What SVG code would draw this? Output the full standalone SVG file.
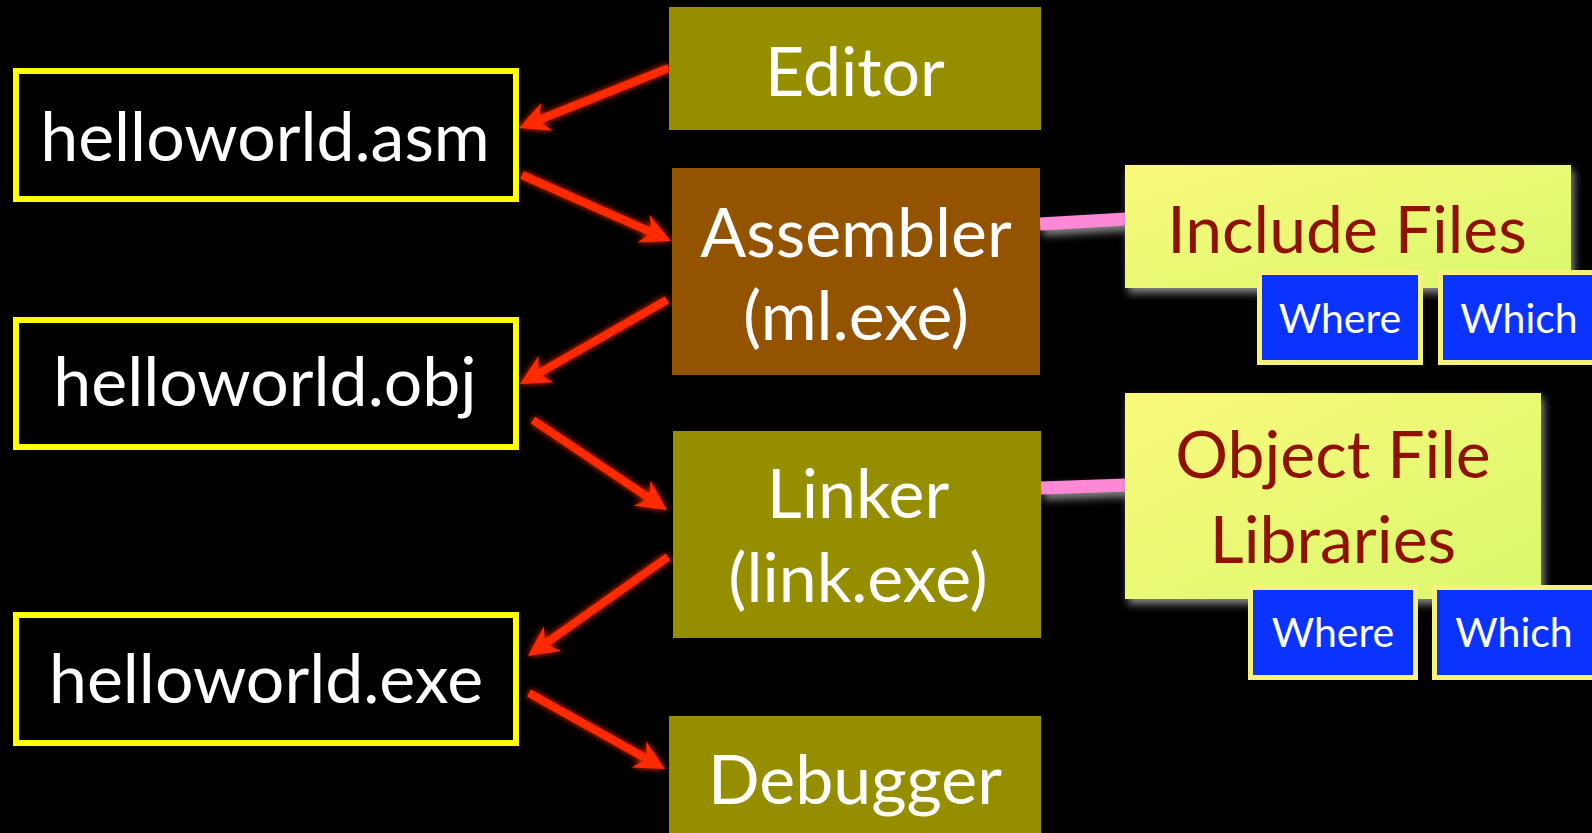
<svg xmlns="http://www.w3.org/2000/svg" width="1592" height="833" viewBox="0 0 1592 833">
<defs>
<style>
.t{font-family:Lato,"Open Sans","Liberation Sans",sans-serif;text-anchor:middle}
.w{fill:#ffffff;font-size:68px}
.r{fill:#8f1200;font-size:66px}
.b{fill:#ffffff;font-size:41px}
.file{fill:#000000;stroke:#ffff00;stroke-width:6}
.olive{fill:#958f00}
.brown{fill:#945300}
.note{fill:url(#yg);filter:url(#sh)}
.blue{fill:#0a33ff;stroke:#f7f27c;stroke-width:5}
.arrow{stroke:#ff2a00;stroke-width:8;fill:none;marker-end:url(#ah)}
.pink{stroke:#ff88d6;stroke-width:13;fill:none}
</style>
<linearGradient id="yg" x1="0" y1="0" x2="1" y2="1">
<stop offset="0" stop-color="#fbf97c"/>
<stop offset="1" stop-color="#d8f86c"/>
</linearGradient>
<filter id="glow" x="-20%" y="-20%" width="140%" height="140%">
<feGaussianBlur in="SourceGraphic" stdDeviation="3" result="b"/>
<feMerge><feMergeNode in="b"/><feMergeNode in="SourceGraphic"/></feMerge>
</filter>
<filter id="sh" x="-10%" y="-10%" width="125%" height="130%">
<feGaussianBlur in="SourceAlpha" stdDeviation="4" result="a"/>
<feOffset in="a" dx="3" dy="5" result="o"/>
<feFlood flood-color="#8a8a8a"/>
<feComposite in2="o" operator="in" result="s"/>
<feMerge><feMergeNode in="s"/><feMergeNode in="SourceGraphic"/></feMerge>
</filter>
<marker id="ah" viewBox="-14 -16 34 32" refX="0" refY="0" markerWidth="34" markerHeight="32" markerUnits="userSpaceOnUse" orient="auto">
<path d="M18,0 L-12,-15 L-3,0 L-12,15 Z" fill="#ff2a00"/>
</marker>
</defs>
<rect x="0" y="0" width="1592" height="833" fill="#000000"/>

<g id="connectors">
<g filter="url(#glow)">
<line class="arrow" x1="669" y1="68" x2="535.7" y2="121.3"/>
<line class="arrow" x1="522" y1="175" x2="654.5" y2="233.7"/>
<line class="arrow" x1="667" y1="300" x2="535.6" y2="375.1"/>
<line class="arrow" x1="533" y1="420" x2="652.1" y2="500"/>
<line class="arrow" x1="668" y1="557" x2="542.7" y2="645.6"/>
<line class="arrow" x1="529" y1="693" x2="649.3" y2="760.2"/>
</g>
<g filter="url(#sh)">
<line class="pink" x1="1040" y1="224" x2="1127" y2="219"/>
<line class="pink" x1="1041" y1="488" x2="1127" y2="485"/>
</g>
</g>

<g id="helloworld-asm">
<rect class="file" x="16" y="71" width="500" height="128"/>
<text class="t w" x="265" y="161">helloworld.asm</text>
</g>
<g id="helloworld-obj">
<rect class="file" x="16" y="320" width="500" height="127"/>
<text class="t w" x="265" y="406">helloworld.obj</text>
</g>
<g id="helloworld-exe">
<rect class="file" x="16" y="615" width="500" height="128"/>
<text class="t w" x="266" y="703">helloworld.exe</text>
</g>

<g id="editor">
<rect class="olive" x="669" y="7" width="372" height="123"/>
<text class="t w" x="855" y="96">Editor</text>
</g>
<g id="assembler">
<rect class="brown" x="672" y="168" width="368" height="207"/>
<text class="t w" x="856" y="257">Assembler</text>
<text class="t w" x="856" y="340">(ml.exe)</text>
</g>
<g id="linker">
<rect class="olive" x="673" y="431" width="368" height="207"/>
<text class="t w" x="858" y="518">Linker</text>
<text class="t w" x="858" y="602">(link.exe)</text>
</g>
<g id="debugger">
<rect class="olive" x="669" y="716" width="372" height="130"/>
<text class="t w" x="855" y="804">Debugger</text>
</g>

<g id="include-files">
<rect class="note" x="1125" y="165" width="446" height="123"/>
<text class="t r" x="1347" y="253">Include Files</text>
</g>
<g id="include-where">
<rect class="blue" x="1259.5" y="272.5" width="161" height="90"/>
<text class="t b" x="1340" y="333">Where</text>
</g>
<g id="include-which">
<rect class="blue" x="1440.5" y="272.5" width="170" height="90"/>
<text class="t b" x="1519" y="333">Which</text>
</g>

<g id="object-file-libraries">
<rect class="note" x="1125" y="393" width="416" height="206"/>
<text class="t r" x="1333" y="478">Object File</text>
<text class="t r" x="1333" y="563">Libraries</text>
</g>
<g id="lib-where">
<rect class="blue" x="1250.5" y="587.5" width="165" height="90"/>
<text class="t b" x="1333" y="647">Where</text>
</g>
<g id="lib-which">
<rect class="blue" x="1434.5" y="587.5" width="170" height="90"/>
<text class="t b" x="1514" y="647">Which</text>
</g>
</svg>
